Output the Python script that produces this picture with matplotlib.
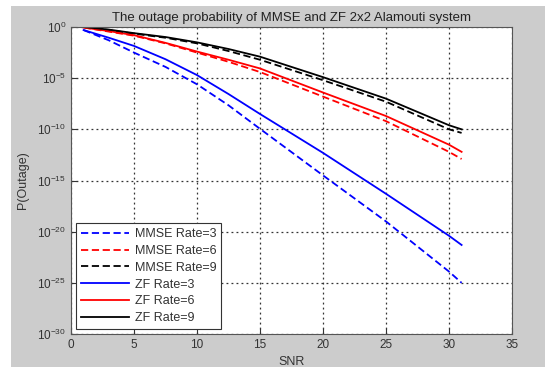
import numpy as np
import matplotlib
matplotlib.use("Agg")
import matplotlib.pyplot as plt
from matplotlib.patches import Rectangle
from matplotlib.ticker import FixedLocator, NullLocator

plt.rcParams['font.family'] = ['Liberation Sans', 'DejaVu Sans']

# values (log10 of outage probability)
snr = [1, 3, 5, 7.5, 10, 12.5, 15, 20, 25, 30, 31]
mmse_rate3 = [-0.3, -1.3, -2.5, -3.9, -5.6, -7.65, -9.95, -14.5, -19.0, -23.9, -25.0]
mmse_rate6 = [-0.05, -0.45, -0.85, -1.6, -2.5, -3.4, -4.4, -6.8, -9.2, -12.2, -12.9]
mmse_rate9 = [0.0, -0.3, -0.65, -1.05, -1.6, -2.35, -3.2, -5.2, -7.3, -10.0, -10.35]
zf_rate3 = [-0.3, -1.05, -1.85, -3.15, -4.7, -6.55, -8.5, -12.3, -16.3, -20.4, -21.3]
zf_rate6 = [-0.05, -0.4, -0.8, -1.55, -2.4, -3.2, -4.05, -6.4, -8.7, -11.5, -12.2]
zf_rate9 = [0.0, -0.25, -0.6, -0.98, -1.5, -2.15, -2.9, -4.9, -7.0, -9.6, -10.0]

series = [
    ("MMSE Rate=3", mmse_rate3, "blue", "--"),
    ("MMSE Rate=6", mmse_rate6, "red", "--"),
    ("MMSE Rate=9", mmse_rate9, "black", "--"),
    ("ZF Rate=3", zf_rate3, "blue", "-"),
    ("ZF Rate=6", zf_rate6, "red", "-"),
    ("ZF Rate=9", zf_rate9, "black", "-"),
]

fig = plt.figure(figsize=(5.45, 3.67), dpi=100, facecolor="white")
# gray matlab-style window background
fig.patches.append(Rectangle((11 / 545, 0), 1, (367 - 6) / 367,
                             transform=fig.transFigure, facecolor="#cccccc",
                             edgecolor="none", zorder=-10))

ax = fig.add_axes([71 / 545, 33 / 367, 441 / 545, 307 / 367])
for label, vals, color, ls in series:
    ax.semilogy(snr, 10.0 ** np.array(vals), color=color, linestyle=ls,
                linewidth=1.3, label=label, dashes=(4, 2) if ls == "--" else (None, None))

ax.set_xlim(0, 35)
ax.set_ylim(1e-30, 1)
ax.set_xticks(range(0, 36, 5))
ax.yaxis.set_major_locator(FixedLocator([10.0 ** k for k in range(-30, 1, 5)]))
ax.yaxis.set_minor_locator(NullLocator())
ax.grid(True, linestyle=(0, (1.5, 2.5)), color="#333333", linewidth=0.9)
ax.tick_params(direction="in", labelsize=8.5, colors="#333333", length=4)
for sp in ax.spines.values():
    sp.set_color("#555555")

ax.set_title("The outage probability of MMSE and ZF 2x2 Alamouti system",
             fontsize=9.5, color="#222222", pad=4)
ax.set_xlabel("SNR", fontsize=9, color="#333333", labelpad=4)
ax.set_ylabel("P(Outage)", fontsize=9, color="#333333", labelpad=6)

leg = ax.legend(loc="lower left", fontsize=9, handlelength=3.8,
                fancybox=False, edgecolor="#333333", framealpha=1,
                borderaxespad=0.4, labelspacing=0.38, handletextpad=0.5)
leg.get_frame().set_linewidth(0.8)
for t in leg.get_texts():
    t.set_color("#333333")

fig.savefig("out.png", dpi=100, facecolor=fig.get_facecolor())
